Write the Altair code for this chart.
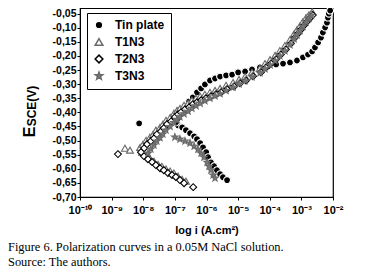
import altair as alt
import pandas as pd

series_names = ["Tin plate", "T1N3", "T2N3", "T3N3"]

# log10 of current density (A/cm2) and potential (V vs SCE)
tin_logi = [-8.13,
            -6.90, -6.77, -6.65, -6.52, -6.39, -6.30, -6.20, -6.11, -6.01, -5.95, -5.86, -5.76, -5.67, -5.57, -5.48, -5.35,
            -6.96, -6.90, -6.81, -6.68, -6.55, -6.43, -6.30, -6.17, -6.05, -5.89, -5.73, -5.57, -5.38, -5.19, -5.00,
            -4.78, -4.56, -4.31, -4.06, -3.80, -3.58, -3.36, -3.14, -2.95, -2.79, -2.66, -2.57, -2.47, -2.38, -2.32,
            -2.25, -2.19, -2.16, -2.13, -2.09]
tin_E = [-0.439,
         -0.446, -0.453, -0.463, -0.474, -0.485, -0.495, -0.509, -0.524, -0.541, -0.559, -0.577, -0.591, -0.605, -0.619, -0.630, -0.640,
         -0.435, -0.421, -0.400, -0.379, -0.361, -0.347, -0.329, -0.315, -0.301, -0.287, -0.280, -0.273, -0.269, -0.266, -0.258,
         -0.255, -0.248, -0.241, -0.237, -0.230, -0.227, -0.223, -0.216, -0.205, -0.195, -0.184, -0.170, -0.152, -0.135, -0.117,
         -0.099, -0.082, -0.064, -0.050, -0.039]

t1_logi = [-8.58, -8.42,
           -8.04, -7.91, -7.79, -7.66, -7.53, -7.41, -7.28, -7.15, -7.03, -6.90, -6.77, -6.65,
           -8.10, -8.01, -7.91, -7.79, -7.69, -7.60, -7.47, -7.38, -7.28, -7.15, -7.03, -6.93, -6.84, -6.71, -6.58,
           -6.46, -6.33, -6.20, -6.05, -5.89, -5.73, -5.57, -5.38, -5.16, -4.97, -4.78, -4.56, -4.31, -4.15, -3.99,
           -3.83, -3.68, -3.52, -3.36, -3.23, -3.14, -3.04, -2.95, -2.85, -2.76, -2.66]
t1_E = [-0.527, -0.534,
        -0.541, -0.552, -0.562, -0.573, -0.584, -0.591, -0.601, -0.608, -0.615, -0.626, -0.637, -0.644,
        -0.524, -0.513, -0.499, -0.488, -0.478, -0.463, -0.453, -0.442, -0.428, -0.418, -0.403, -0.393, -0.386, -0.375, -0.368,
        -0.357, -0.350, -0.343, -0.336, -0.329, -0.322, -0.315, -0.304, -0.294, -0.283, -0.273, -0.258, -0.244, -0.227, -0.213,
        -0.198, -0.181, -0.163, -0.142, -0.121, -0.107, -0.092, -0.078, -0.064, -0.054, -0.043]

t2_logi = [-8.80,
           -7.98, -7.85, -7.72, -7.60, -7.47, -7.35, -7.22, -7.09, -6.97, -6.84, -6.71, -6.42,
           -8.07, -7.97, -7.88, -7.76, -7.66, -7.57, -7.44, -7.35, -7.25, -7.12, -7.00, -6.90, -6.81, -6.68, -6.55,
           -6.43, -6.30, -6.17, -6.02, -5.86, -5.70, -5.54, -5.35, -5.13, -4.94, -4.75, -4.53, -4.28, -4.12, -3.96,
           -3.80, -3.65, -3.49, -3.33, -3.20, -3.11, -3.01, -2.92, -2.82, -2.73, -2.64]
t2_E = [-0.548,
        -0.555, -0.566, -0.576, -0.587, -0.598, -0.605, -0.615, -0.622, -0.629, -0.640, -0.651, -0.665,
        -0.541, -0.527, -0.513, -0.502, -0.492, -0.478, -0.467, -0.456, -0.442, -0.432, -0.417, -0.407, -0.400, -0.389, -0.382,
        -0.371, -0.364, -0.357, -0.350, -0.343, -0.336, -0.329, -0.318, -0.308, -0.297, -0.287, -0.272, -0.258, -0.241, -0.227,
        -0.212, -0.195, -0.177, -0.156, -0.135, -0.121, -0.106, -0.092, -0.078, -0.066, -0.055]

t3_logi = [-7.00, -6.84, -6.68, -6.52, -6.39, -6.27, -6.17, -6.08, -5.98, -5.92, -5.86, -5.79, -5.73,
           -7.85, -7.76, -7.66, -7.57, -7.47, -7.38, -7.28, -7.15, -7.03, -6.93, -6.84, -6.71, -6.58, -6.46, -6.33,
           -6.20, -6.05, -5.89, -5.73, -5.57, -5.38, -5.16, -4.97, -4.78, -4.56, -4.31, -4.15, -3.99, -3.83, -3.68,
           -3.52, -3.36, -3.23, -3.14, -3.04, -2.95, -2.85, -2.76, -2.68]
t3_E = [-0.488, -0.495, -0.502, -0.509, -0.520, -0.531, -0.545, -0.559, -0.577, -0.591, -0.605, -0.622, -0.633,
        -0.545, -0.530, -0.516, -0.502, -0.490, -0.477, -0.463, -0.450, -0.436, -0.425, -0.416, -0.405, -0.396, -0.386, -0.377,
        -0.368, -0.359, -0.350, -0.342, -0.334, -0.323, -0.311, -0.299, -0.288, -0.274, -0.260, -0.246, -0.232, -0.217, -0.200,
        -0.182, -0.161, -0.140, -0.125, -0.110, -0.095, -0.080, -0.067, -0.056]

x_ticks = [1e-10, 1e-9, 1e-8, 1e-7, 1e-6, 1e-5, 1e-4, 1e-3, 1e-2]
x_tick_labels = ["10⁻¹⁰", "10⁻⁹", "10⁻⁸", "10⁻⁷", "10⁻⁶", "10⁻⁵", "10⁻⁴", "10⁻³", "10⁻²"]
y_ticks = [-0.70, -0.65, -0.60, -0.55, -0.50, -0.45, -0.40, -0.35, -0.30, -0.25, -0.20, -0.15, -0.10, -0.05]
x_title = "log i (A.cm²)"
y_title_main = "E"
y_title_sub = "SCE(V)"
caption_lines = ["Figure 6. Polarization curves in a 0.05M NaCl solution.", "Source: The authors."]

STAR = ("M0,-1L0.24,-0.33L0.95,-0.31L0.39,0.13L0.59,0.81L0,0.42"
        "L-0.59,0.81L-0.39,0.13L-0.95,-0.31L-0.24,-0.33Z")

frames = []
for name, li, e in [("Tin plate", tin_logi, tin_E), ("T1N3", t1_logi, t1_E),
                    ("T2N3", t2_logi, t2_E), ("T3N3", t3_logi, t3_E)]:
    frames.append(pd.DataFrame({"series": name, "i": [10 ** v for v in li], "E": e}))
df = pd.concat(frames, ignore_index=True)
df["order"] = range(len(df))

label_expr = "[" + ",".join("'" + s + "'" for s in x_tick_labels) + "][round(log(datum.value)/LN10)+10]"

points = alt.Chart(df).mark_point(filled=True, size=48, strokeWidth=1.1, opacity=1).encode(
    x=alt.X("i:Q", scale=alt.Scale(type="log", domain=[1e-10, 1e-2], nice=False),
            axis=alt.Axis(values=x_ticks, labelExpr=label_expr, title=x_title, orient="bottom",
                          grid=False, tickSize=3, labelPadding=4, labelFontSize=11,
                          labelFontWeight="bold", titleFontSize=11, titleFontWeight="bold",
                          titlePadding=9, labelFlush=False)),
    y=alt.Y("E:Q", scale=alt.Scale(domain=[-0.70, -0.03], nice=False, zero=False),
            axis=alt.Axis(values=y_ticks, labelExpr="'-' + replace(format(abs(datum.value), '.2f'), '.', ',')",
                          title=None, orient="left", grid=False, tickSize=3, labelPadding=1,
                          labelFontSize=10.5, labelFontWeight="bold")),
    shape=alt.Shape("series:N", scale=alt.Scale(domain=series_names,
                    range=["circle", "triangle-up", "diamond", STAR]),
                    legend=alt.Legend(title=None, orient="none", legendX=7, legendY=5,
                                      strokeColor="black", padding=6, rowPadding=3,
                                      labelFontSize=12, labelFontWeight="bold", symbolSize=60,
                                      labelOffset=10, fillColor="white")),
    fill=alt.Fill("series:N", scale=alt.Scale(domain=series_names,
                  range=["#000000", "#ffffff", "#ffffff", "#7a7a7a"]), legend=None),
    stroke=alt.Stroke("series:N", scale=alt.Scale(domain=series_names,
                      range=["#ffffff", "#6a6a6a", "#000000", "#6a6a6a"]), legend=None),
    order=alt.Order("order:Q"),
)

ytitle_main = alt.Chart(pd.DataFrame({"t": [y_title_main]})).mark_text(
    angle=270, align="center", baseline="middle", font="Liberation Sans", fontSize=16,
    fontWeight="bold", color="black").encode(x=alt.value(-50), y=alt.value(124), text="t:N")
ytitle_sub = alt.Chart(pd.DataFrame({"t": [y_title_sub]})).mark_text(
    angle=270, align="center", baseline="middle", font="Liberation Sans", fontSize=12,
    fontWeight="bold", color="black").encode(x=alt.value(-48), y=alt.value(98), text="t:N")

cap_df = pd.DataFrame({"text": ["\n".join(caption_lines)]})
caption = alt.Chart(cap_df).mark_text(align="left", baseline="top", font="Liberation Serif",
                                      fontSize=12.4, color="black", lineBreak="\n", lineHeight=14.5).encode(
    x=alt.value(-72),
    y=alt.value(233),
    text="text:N",
)

chart = alt.layer(points, ytitle_main, ytitle_sub, caption).properties(
    width=253, height=189,
    autosize=alt.AutoSizeParams(type="none"),
    padding={"left": 72, "top": 0, "right": 36, "bottom": 74},
).configure_view(stroke="black", strokeWidth=1.2).configure_axis(
    domainColor="black", tickColor="black", labelColor="black", titleColor="black",
    labelFont="Liberation Sans", titleFont="Liberation Sans"
).configure_legend(labelFont="Liberation Sans", labelColor="black")

chart.save("out.html", embed_options={"renderer": "svg", "actions": False})
